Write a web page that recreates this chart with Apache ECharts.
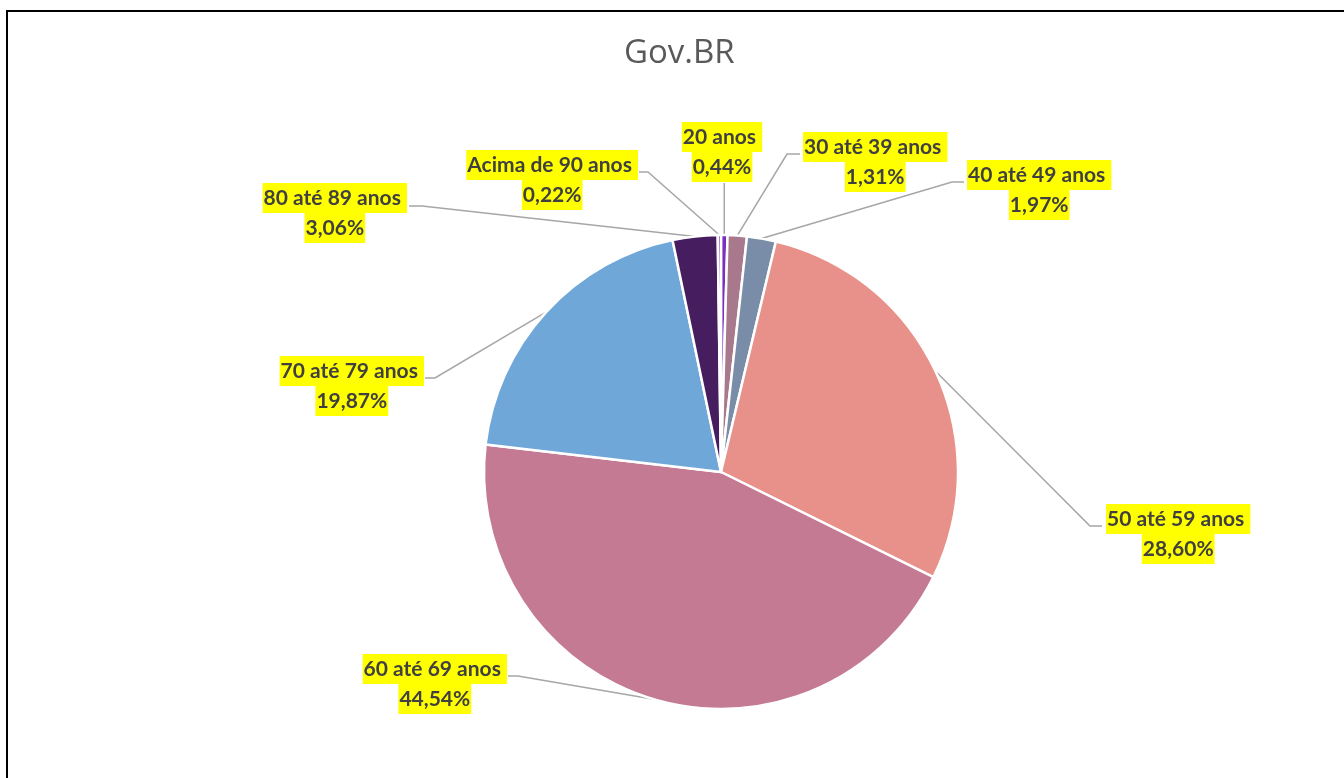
<!DOCTYPE html>
<html>
<head>
<meta charset="utf-8">
<script src="https://cdn.jsdelivr.net/npm/echarts@6/dist/echarts.min.js"></script>
<style>
  html, body { margin: 0; padding: 0; background: #ffffff; }
  #chart { width: 1344px; height: 778px; }
</style>
</head>
<body>
<div id="chart"></div>
<script>
// ---- data ----
var categories = ['20 anos', '30 até 39 anos', '40 até 49 anos', '50 até 59 anos',
                  '60 até 69 anos', '70 até 79 anos', '80 até 89 anos', 'Acima de 90 anos'];
var percentages = [0.44, 1.31, 1.97, 28.60, 44.54, 19.87, 3.06, 0.22];
var sliceColors = ['#7A2FBF', '#A8798C', '#7A8DA8', '#E8918B', '#C47A92', '#70A7D9', '#461D5E', '#9E48C8'];
var chartTitle = 'Gov.BR';

// ---- layout (offsets from pie centre, px) ----
var CX = 721, CY = 472, R = 237;
// label block: x, top, align; leader: elbow point, end x (end y = elbow y)
var labelPlacement = [
  { x: 1,    top: -350, align: 'center', straight: true, endY: -289 },
  { x: 82,   top: -340, align: 'left',  ex: 66,   ey: -318, endX: 79 },
  { x: 246,  top: -312, align: 'left',  ex: 231,  ey: -290, endX: 243 },
  { x: 385,  top: 32,   align: 'left',  ex: 369,  ey: 54,   endX: 381 },
  { x: -214, top: 182,  align: 'right', ex: -203, ey: 204,  endX: -213 },
  { x: -297, top: -116, align: 'right', ex: -286, ey: -94,  endX: -296 },
  { x: -314, top: -289, align: 'right', ex: -299, ey: -266, endX: -312 },
  { x: -83,  top: -322, align: 'right', ex: -73,  ey: -300, endX: -82 }
];

function fmtPct(v) { return v.toFixed(2).replace('.', ',') + '%'; }

var seriesData = categories.map(function (c, i) {
  return { name: c, value: percentages[i], itemStyle: { color: sliceColors[i] } };
});

var chart = echarts.init(document.getElementById('chart'), null, { renderer: 'canvas' });
chart.setOption({
  animation: false,
  backgroundColor: '#ffffff',
  title: {
    text: chartTitle,
    left: 619,
    top: 32,
    textStyle: { fontFamily: 'Open Sans', fontSize: 33, fontWeight: 'normal', color: '#595959' }
  },
  graphic: [{
    type: 'rect',
    z: -10,
    shape: { x: 7, y: 11, width: 1400, height: 900 },
    style: { fill: 'none', stroke: '#000000', lineWidth: 2 }
  }],
  series: [{
    type: 'pie',
    center: [CX, CY],
    radius: R,
    startAngle: 90,
    clockwise: true,
    avoidLabelOverlap: false,
    data: seriesData,
    itemStyle: { borderColor: '#ffffff', borderWidth: 2.5 },
    label: {
      show: true,
      position: 'outer',
      formatter: function (p) {
        return '{a|' + p.name + ' }\n{a|' + fmtPct(p.value) + '}';
      },
      rich: {
        a: {
          fontFamily: 'Lato', fontWeight: 'bold', fontSize: 21, color: '#404040',
          backgroundColor: '#FFFF00', lineHeight: 30, height: 30, align: 'center', padding: [0, 1]
        }
      }
    },
    labelLine: {
      show: true, length: 8, length2: 8,
      lineStyle: { color: '#A6A6A6', width: 1.5 }
    },
    labelLayout: function (p) {
      var L = labelPlacement[p.dataIndex];
      var s = p.labelLinePoints[0];
      var pts;
      if (L.straight) {
        pts = [[s[0], s[1]], [s[0], CY + L.endY]];
      } else {
        pts = [[s[0], s[1]], [CX + L.ex, CY + L.ey], [CX + L.endX, CY + L.ey]];
      }
      return {
        x: CX + L.x,
        y: CY + L.top,
        align: L.align,
        verticalAlign: 'top',
        labelLinePoints: pts
      };
    },
    emphasis: { disabled: true }
  }]
});
</script>
</body>
</html>
